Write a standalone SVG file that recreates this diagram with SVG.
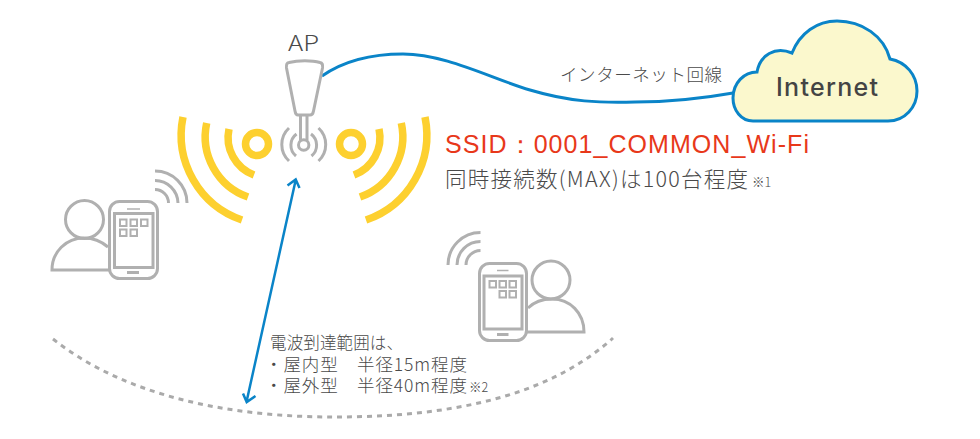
<svg xmlns="http://www.w3.org/2000/svg" width="980" height="439" viewBox="0 0 980 439">
<style>
.t{font-family:"Noto Sans CJK JP","Noto Sans",sans-serif;fill:#4a4a4a;font-weight:300}
.y{fill:none;stroke:#fdd02f;stroke-width:7.5}
.g{fill:none;stroke:#b0b0b0;stroke-width:3}
.g2{fill:none;stroke:#b0b0b0;stroke-width:2}
.b{fill:none;stroke:#0a84c8;stroke-width:3}
</style>
<rect width="980" height="439" fill="#fff"/>
<g id="range"><path d="M53 339C130 400 240 417 333 417C430 417 540 404 613 338" fill="none" stroke="#aaa" stroke-width="3" stroke-dasharray="5 5"/></g>
<g id="connectors">
<path class="b" d="M322 76C345 60 375 54 403 54C445 54 490 78 530 90C570 102 600 103 635 102C670 102 705 98 733 93"/>
<path class="b" style="stroke-width:2.5" d="M295.700 180L246.700 401M287.500 185.500L295.700 179.500L299.500 188M243 393.500L246.700 402L255.500 396"/>
</g>
<g id="ap">
<path class="g" d="M286.500 68C286 64 287 63 289 62.500C298 60 312 60 320 62.500C322.500 63 323 65 322.500 68L313.500 111C313 114 312 115 310 115H298C296.500 115 295.500 114 295 111Z" stroke-linejoin="round"/>
<path class="g" d="M300.500 115V140M307 115V140"/>
<circle class="g" cx="303.700" cy="145" r="5.200"/>
<path class="g" d="M296.500 134A14 14 0 0 0 296 156M311 134A14 14 0 0 1 311.500 156M289 128A22.500 22.500 0 0 0 289 161M318.500 128A22.500 22.500 0 0 1 318.500 161"/>
<text class="t" x="288" y="51" font-size="22" textLength="31" lengthAdjust="spacingAndGlyphs">AP</text>
</g>
<g id="wave-left">
<circle class="y" cx="257" cy="144" r="11.500"/>
<path class="y" d="M229 129A40 40 0 0 0 254 175M206.700 123A64 64 0 0 0 248 197M183 117A90 90 0 0 0 242 220"/>
</g>
<g id="wave-right">
<circle class="y" cx="351" cy="144" r="11.500"/>
<path class="y" d="M379 129A40 40 0 0 1 354 175M401.300 123A64 64 0 0 1 360 197M425 117A90 90 0 0 1 366 220"/>
</g>
<g id="cloud">
<path d="M753 121H888C905 121 917 107 917 91C917 75 906 62 890 59C884 36 862 21 837 21C817 21 800 33 792 53C775 46 760 55 757 72C744 72 733 83 733 98C733 110 741 121 753 121Z" fill="#fbf8cd" stroke="#0a84c8" stroke-width="3"/>
<text x="776" y="96" font-family="Inter,Lato,sans-serif" font-size="25" font-weight="500" textLength="102" fill="#444">Internet</text>
</g>
<g id="user-left">
<circle class="g" cx="84.500" cy="219.500" r="19"/>
<path class="g" d="M108 247C101 241 93 238 84 238C66 238 52 252 52 270H110"/>
<rect class="g" x="109.500" y="201.500" width="48" height="77" rx="10" fill="#fff"/>
<rect class="g" x="114.500" y="213.500" width="38.500" height="54"/>
<path class="g2" d="M127 209H140" style="stroke-width:1.500"/><path class="g" d="M127 272.500H139"/>
<path class="g2" d="M120 219.500h6.500v6.500h-6.500zM130.500 219.500h6.500v6.500h-6.500zM141 219.500h6.500v6.500h-6.500zM120 229.500h6.500v6.500h-6.500zM130.500 229.500h6.500v6.500h-6.500z"/>
<path class="g" d="M155 171A32 32 0 0 1 187 203M155 180.500A23 23 0 0 1 178 203M155 189.500A13.500 13.500 0 0 1 168.500 203"/>
</g>
<g id="user-right">
<circle class="g" cx="551" cy="280" r="19"/>
<path class="g" d="M528 308C534 302 542 299 552 299C570 299 584 313 584 332H527"/>
<rect class="g" x="479.500" y="263.500" width="47" height="77" rx="10" fill="#fff"/>
<rect class="g" x="484" y="276" width="38" height="53"/>
<path class="g2" d="M497 270.500H508.500" style="stroke-width:1.500"/><path class="g" d="M497 334.500H508.500"/>
<path class="g2" d="M489.500 281h6.500v6.500h-6.500zM499.500 281h6.500v6.500h-6.500zM509.500 281h6.500v6.500h-6.500zM499.500 291h6.500v6.500h-6.500zM509.500 291h6.500v6.500h-6.500z"/>
<path class="g" d="M448 265A32.500 32.500 0 0 1 480.500 232.500M457 265A23.500 23.500 0 0 1 480.500 241.500M466 265A14.500 14.500 0 0 1 480.500 250.500"/>
</g>
<g id="labels">
<text class="t" x="560" y="81" font-size="17.500" textLength="162" lengthAdjust="spacing">インターネット回線</text>
<text x="445" y="153" font-family="'Liberation Sans',sans-serif" font-size="25" fill="#e8381a" textLength="364" lengthAdjust="spacing">SSID：0001_COMMON_Wi-Fi</text>
<text class="t" x="445" y="187" font-size="21.500" textLength="303" lengthAdjust="spacing">同時接続数(MAX)は100台程度</text>
<text class="t" x="752" y="187" font-size="12.500">※1</text>
<text class="t" x="270" y="349" font-size="16.500" textLength="133" lengthAdjust="spacing">電波到達範囲は、</text>
<text class="t" x="265" y="371" font-size="17.500" textLength="202" lengthAdjust="spacing">・屋内型　半径15m程度</text>
<text class="t" x="265" y="392" font-size="17.500" textLength="202" lengthAdjust="spacing">・屋外型　半径40m程度</text>
<text class="t" x="469" y="392" font-size="12.500">※2</text>
</g>
</svg>
